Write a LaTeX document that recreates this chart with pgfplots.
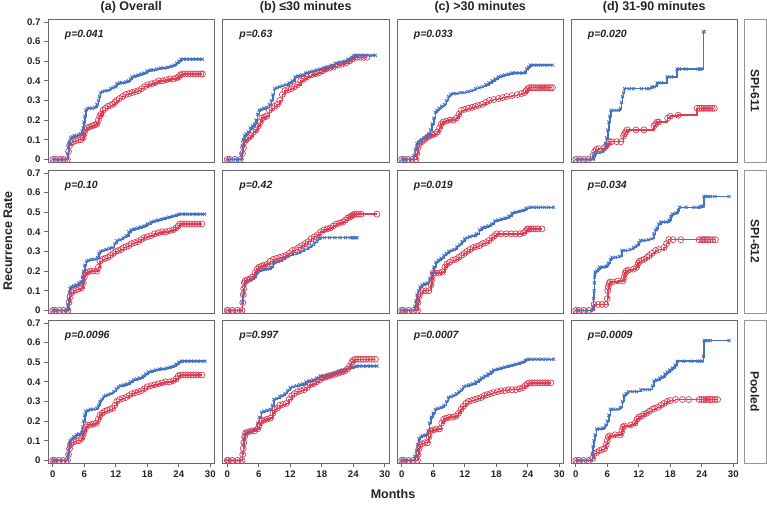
\documentclass[border=0pt]{standalone}
\usepackage{pgfplots}
\pgfplotsset{compat=1.18}
\usepackage{fontspec}
\setmainfont{Liberation Sans}
\definecolor{cb}{RGB}{68,114,196}
\definecolor{cr}{RGB}{220,62,84}
\definecolor{axg}{RGB}{105,105,105}
\definecolor{stg}{RGB}{150,150,150}
\definecolor{txt}{RGB}{35,35,35}
\pgfplotsset{
  panel/.style={scale only axis, width=166.5pt, height=143.3pt,
    xmin=-0.9, xmax=30.8, ymin=-0.015, ymax=0.715,
    axis line style={draw=axg, line width=0.9pt},
    tick align=outside, tick pos=left, major tick length=4pt,
    tick style={draw=axg, line width=0.8pt},
    xtick=\empty, ytick=\empty, clip=false,
    ticklabel style={font=\fontsize{9.6}{11}\selectfont\bfseries, text=txt},
    /pgf/number format/assume math mode=true,
    yticklabel style={/pgf/number format/fixed, /pgf/number format/precision=1},
    anchor=north west},
  leftcol/.style={ytick={0,0.1,0.2,0.3,0.4,0.5,0.6,0.7}},
  botrow/.style={xtick={0,6,12,18,24,30}},
  bl/.style={const plot, color=cb, line width=1.5pt, mark=x, mark size=2.2pt, mark options={line width=0.8pt}},
  rd/.style={const plot, color=cr, line width=1.5pt, mark=o, mark size=3pt, mark options={line width=0.7pt}},
}
\tikzset{
  pv/.style={anchor=west, font=\fontsize{10.5}{12}\selectfont\bfseries\itshape, text=txt},
  ttl/.style={anchor=base, font=\fontsize{12.5}{14}\selectfont\bfseries, text=txt},
  strip/.style={draw=stg, line width=0.8pt, fill=white},
  striptxt/.style={rotate=-90, font=\fontsize{12}{14}\selectfont\bfseries, text=txt},
}
\begin{document}
\begin{tikzpicture}
\useasboundingbox (0pt,0pt) rectangle (767pt,-505pt);
% ---------------- Row 1: SPI-611
\begin{axis}[panel, leftcol, at={(48pt,-19pt)}, name=A1]
\addplot[rd] coordinates {(0,0)(0.6,0)(1.4,0)(2.0,0)(2.8,0)(3.0,0.04)(3.2,0.07)(3.5,0.085)(3.9,0.09)(4.4,0.095)(4.9,0.10)(5.4,0.10)(5.8,0.11)(6.0,0.13)(6.2,0.15)(6.5,0.16)(7.0,0.165)(7.5,0.17)(8.0,0.175)(8.4,0.18)(8.7,0.20)(8.95,0.22)(9.2,0.23)(9.6,0.25)(10.0,0.26)(10.5,0.27)(11.0,0.275)(11.4,0.28)(11.8,0.29)(12.2,0.30)(12.7,0.31)(13.3,0.32)(13.9,0.33)(14.5,0.335)(15.1,0.34)(15.7,0.345)(16.3,0.35)(16.9,0.36)(17.5,0.37)(18.1,0.38)(18.8,0.385)(19.5,0.39)(20.2,0.40)(20.9,0.40)(21.6,0.405)(22.3,0.41)(23.0,0.41)(23.6,0.415)(24.0,0.42)(24.3,0.43)(24.7,0.435)(25.2,0.435)(25.7,0.435)(26.2,0.435)(26.7,0.435)(27.2,0.435)(27.7,0.435)(28.2,0.435)(28.5,0.435)};
\addplot[bl] coordinates {(0,0)(0.4,0)(1,0)(1.8,0)(2.6,0)(2.9,0.03)(3.0,0.06)(3.1,0.08)(3.2,0.09)(3.4,0.11)(3.7,0.115)(4.1,0.12)(4.5,0.12)(4.9,0.125)(5.3,0.13)(5.6,0.14)(5.8,0.16)(5.95,0.19)(6.1,0.22)(6.3,0.25)(6.6,0.26)(7.0,0.26)(7.5,0.26)(8.0,0.265)(8.4,0.28)(8.7,0.30)(8.9,0.32)(9.1,0.34)(9.5,0.345)(10.0,0.35)(10.5,0.35)(11.0,0.36)(11.5,0.365)(11.9,0.37)(12.2,0.385)(12.7,0.39)(13.3,0.39)(13.9,0.395)(14.4,0.40)(14.8,0.41)(15.1,0.42)(15.7,0.425)(16.3,0.43)(16.9,0.435)(17.4,0.44)(18.0,0.45)(18.6,0.455)(19.2,0.455)(19.8,0.46)(20.5,0.465)(21.2,0.465)(21.9,0.47)(22.6,0.475)(23.2,0.48)(23.6,0.49)(24.0,0.50)(24.4,0.51)(24.9,0.51)(25.5,0.51)(26.1,0.51)(26.7,0.51)(27.3,0.51)(27.9,0.51)(28.5,0.51)};
\node[pv] at (rel axis cs:0.08,0.888) {p=0.041};
\end{axis}
\begin{axis}[panel, at={(222.5pt,-19pt)}, name=B1]
\addplot[rd] coordinates {(0,0)(0.5,0)(1.5,0)(2.5,0)(2.9,0.03)(3.1,0.06)(3.3,0.09)(3.6,0.10)(4.0,0.11)(4.5,0.12)(5.0,0.14)(5.5,0.15)(5.9,0.17)(6.3,0.19)(6.6,0.21)(7.0,0.215)(7.5,0.22)(8.0,0.25)(8.5,0.26)(9.0,0.27)(9.5,0.28)(10.0,0.30)(10.5,0.33)(11.0,0.35)(11.6,0.355)(12.2,0.36)(12.8,0.37)(13.4,0.38)(14.0,0.40)(14.6,0.41)(15.2,0.42)(16.0,0.43)(16.7,0.435)(17.4,0.44)(18.1,0.45)(18.8,0.46)(19.5,0.465)(20.2,0.47)(21.0,0.48)(21.8,0.485)(22.5,0.49)(23.2,0.50)(23.8,0.51)(24.3,0.52)(24.8,0.52)(25.4,0.52)(26.0,0.52)(26.6,0.52)};
\addplot[bl] coordinates {(0,0)(0.8,0)(1.6,0)(2.4,0)(2.7,0.03)(2.9,0.07)(3.1,0.10)(3.3,0.12)(3.6,0.13)(4.0,0.14)(4.4,0.16)(4.8,0.17)(5.2,0.18)(5.5,0.20)(5.8,0.23)(6.1,0.25)(6.5,0.255)(7.0,0.26)(7.5,0.265)(8.0,0.28)(8.4,0.30)(8.7,0.33)(9.0,0.36)(9.5,0.365)(10.0,0.37)(10.6,0.375)(11.2,0.38)(11.8,0.39)(12.4,0.40)(12.9,0.42)(13.5,0.425)(14.2,0.43)(14.9,0.44)(15.6,0.445)(16.3,0.45)(17.0,0.455)(17.7,0.46)(18.4,0.465)(19.0,0.47)(19.8,0.48)(20.6,0.49)(21.4,0.495)(22.2,0.50)(23.0,0.51)(23.7,0.52)(24.2,0.53)(24.8,0.53)(25.5,0.53)(26.2,0.53)(27.0,0.53)(27.7,0.53)(28.2,0.53)};
\node[pv] at (rel axis cs:0.08,0.888) {p=0.63};
\end{axis}
\begin{axis}[panel, at={(397pt,-19pt)}, name=C1]
\addplot[rd] coordinates {(0,0)(0.5,0)(1.2,0)(2.0,0)(2.7,0)(2.9,0.03)(3.1,0.06)(3.4,0.08)(3.8,0.09)(4.3,0.10)(4.8,0.11)(5.3,0.12)(5.8,0.125)(6.3,0.13)(6.8,0.14)(7.2,0.16)(7.5,0.18)(7.9,0.19)(8.5,0.195)(9.2,0.20)(9.8,0.20)(10.4,0.21)(10.9,0.23)(11.4,0.25)(12.0,0.255)(12.7,0.26)(13.4,0.265)(14.0,0.27)(14.6,0.275)(15.3,0.28)(16.0,0.29)(16.7,0.30)(17.5,0.305)(18.4,0.31)(19.2,0.315)(20.0,0.32)(21.0,0.325)(22.0,0.33)(22.8,0.335)(23.4,0.34)(23.7,0.35)(24.0,0.36)(24.3,0.365)(24.7,0.365)(25.1,0.365)(25.5,0.365)(25.9,0.365)(26.3,0.365)(26.7,0.365)(27.1,0.365)(27.5,0.365)(27.9,0.365)(28.3,0.365)(28.7,0.365)};
\addplot[bl] coordinates {(0,0)(0.6,0)(1.3,0)(2.0,0)(2.3,0.02)(2.6,0.05)(2.9,0.08)(3.3,0.09)(3.8,0.10)(4.3,0.11)(4.8,0.12)(5.2,0.13)(5.5,0.15)(5.8,0.18)(6.1,0.21)(6.4,0.24)(6.7,0.25)(7.1,0.26)(7.6,0.27)(8.1,0.28)(8.5,0.30)(8.9,0.32)(9.3,0.33)(9.8,0.335)(10.5,0.335)(11.2,0.34)(11.9,0.34)(12.6,0.345)(13.3,0.35)(14.0,0.36)(14.7,0.365)(15.4,0.37)(16.0,0.38)(16.6,0.39)(17.2,0.40)(17.8,0.41)(18.4,0.42)(19.0,0.425)(19.6,0.43)(20.3,0.435)(21.0,0.44)(21.7,0.44)(22.4,0.44)(23.1,0.44)(23.5,0.445)(23.8,0.46)(24.1,0.47)(24.5,0.48)(25.2,0.48)(26.0,0.48)(26.8,0.48)(27.7,0.48)(28.7,0.48)};
\node[pv] at (rel axis cs:0.08,0.888) {p=0.033};
\end{axis}
\begin{axis}[panel, at={(571pt,-19pt)}, name=D1]
\addplot[rd] coordinates {(0,0)(0.7,0)(1.5,0)(2.3,0)(3.3,0.02)(3.6,0.04)(3.9,0.05)(4.4,0.055)(5.5,0.06)(5.9,0.07)(6.1,0.08)(6.4,0.09)(6.8,0.09)(7.8,0.09)(8.6,0.09)(9.1,0.12)(9.3,0.13)(9.5,0.14)(9.8,0.15)(11.5,0.15)(13.0,0.15)(14.9,0.17)(15.2,0.18)(15.5,0.19)(15.8,0.19)(17.5,0.21)(18.0,0.22)(19.5,0.225)(23.1,0.26)(23.6,0.26)(24.0,0.26)(24.4,0.26)(24.8,0.26)(25.2,0.26)(25.6,0.26)(26.0,0.26)(26.4,0.26)};
\addplot[bl] coordinates {(0,0)(0.6,0)(1.3,0)(2.0,0)(2.7,0)(3.3,0)(3.5,0.02)(3.7,0.03)(4.5,0.035)(5.2,0.045)(5.5,0.05)(5.7,0.08)(5.9,0.11)(6.1,0.15)(6.3,0.19)(6.5,0.22)(6.7,0.25)(7.4,0.25)(8.1,0.25)(8.5,0.26)(8.7,0.29)(8.9,0.32)(9.1,0.34)(9.3,0.36)(10.2,0.36)(11.0,0.36)(12.5,0.36)(13.5,0.36)(14.0,0.36)(14.5,0.37)(15.0,0.37)(15.5,0.39)(16.3,0.39)(17.4,0.42)(18.2,0.42)(19.3,0.46)(19.7,0.46)(21.0,0.46)(23.3,0.46)(23.6,0.46)(23.8,0.46)(24.3,0.65)(24.45,0.65)};
\node[pv] at (rel axis cs:0.08,0.888) {p=0.020};
\end{axis}
% ---------------- Row 2: SPI-612
\begin{axis}[panel, leftcol, at={(48pt,-170pt)}, name=A2]
\addplot[rd] coordinates {(0,0)(0.5,0)(1.3,0)(2.1,0)(2.9,0)(3.1,0.04)(3.3,0.07)(3.6,0.09)(4.0,0.10)(4.5,0.105)(5.0,0.11)(5.5,0.115)(5.8,0.14)(6.0,0.17)(6.2,0.19)(6.6,0.195)(7.2,0.20)(7.8,0.20)(8.4,0.20)(8.7,0.22)(9.0,0.25)(9.5,0.26)(10.0,0.265)(10.5,0.27)(11.0,0.28)(11.5,0.29)(12.0,0.30)(12.5,0.305)(13.0,0.31)(13.5,0.32)(14.0,0.325)(14.5,0.33)(15.0,0.34)(15.6,0.345)(16.2,0.35)(16.8,0.36)(17.4,0.37)(18.0,0.375)(18.7,0.38)(19.4,0.39)(20.1,0.395)(20.8,0.40)(21.5,0.40)(22.2,0.405)(22.9,0.41)(23.5,0.42)(23.9,0.43)(24.2,0.44)(24.7,0.44)(25.3,0.44)(25.9,0.44)(26.5,0.44)(27.1,0.44)(27.7,0.44)(28.4,0.44)};
\addplot[bl] coordinates {(0,0)(0.5,0)(1.2,0)(2.0,0)(2.7,0)(2.9,0.03)(3.0,0.06)(3.15,0.09)(3.3,0.11)(3.5,0.12)(4.0,0.125)(4.5,0.13)(5.0,0.14)(5.4,0.145)(5.7,0.17)(5.9,0.20)(6.1,0.23)(6.4,0.25)(6.8,0.255)(7.4,0.26)(8.0,0.26)(8.5,0.27)(8.8,0.29)(9.1,0.30)(9.6,0.305)(10.2,0.31)(10.8,0.315)(11.3,0.32)(11.8,0.34)(12.2,0.355)(12.8,0.36)(13.4,0.37)(14.0,0.38)(14.5,0.40)(14.9,0.41)(15.5,0.415)(16.2,0.42)(16.8,0.425)(17.4,0.43)(18.0,0.44)(18.7,0.45)(19.4,0.455)(20.0,0.46)(20.7,0.465)(21.4,0.47)(22.1,0.475)(22.8,0.48)(23.5,0.485)(24.0,0.49)(24.6,0.49)(25.3,0.49)(26.0,0.49)(26.7,0.49)(27.4,0.49)(28.1,0.49)(28.9,0.49)};
\node[pv] at (rel axis cs:0.08,0.888) {p=0.10};
\end{axis}
\begin{axis}[panel, at={(222.5pt,-170pt)}, name=B2]
\addplot[bl] coordinates {(0,0)(0.5,0)(1.3,0)(2.2,0)(2.7,0)(2.9,0.04)(3.0,0.08)(3.15,0.11)(3.3,0.13)(3.5,0.15)(4.0,0.155)(4.6,0.16)(5.2,0.17)(5.6,0.19)(5.9,0.20)(6.4,0.205)(7.0,0.21)(7.7,0.21)(8.3,0.22)(8.8,0.24)(9.1,0.245)(9.7,0.25)(10.4,0.26)(11.0,0.27)(11.7,0.28)(12.4,0.285)(13.2,0.29)(13.9,0.30)(14.6,0.31)(15.4,0.32)(16.0,0.33)(16.6,0.345)(17.2,0.36)(17.7,0.37)(18.5,0.37)(19.5,0.37)(20.5,0.37)(21.5,0.37)(22.5,0.37)(23.4,0.37)(23.8,0.37)(24.1,0.37)(24.4,0.37)(24.7,0.37)};
\addplot[rd] coordinates {(0,0)(0.1,0)(1.0,0)(2.0,0)(2.8,0)(2.95,0.04)(3.05,0.08)(3.15,0.11)(3.25,0.14)(3.4,0.15)(3.8,0.155)(4.3,0.16)(4.8,0.17)(5.3,0.19)(5.7,0.21)(6.0,0.22)(6.5,0.225)(7.0,0.23)(7.6,0.235)(8.2,0.25)(8.8,0.26)(9.4,0.265)(10.0,0.27)(10.6,0.275)(11.2,0.28)(11.8,0.29)(12.4,0.305)(13.0,0.31)(13.6,0.32)(14.2,0.33)(14.8,0.34)(15.4,0.35)(16.0,0.365)(16.6,0.375)(17.2,0.385)(17.8,0.40)(18.4,0.41)(19.0,0.415)(19.6,0.42)(20.2,0.43)(20.8,0.44)(21.4,0.445)(22.0,0.45)(22.5,0.46)(22.9,0.47)(23.3,0.475)(23.6,0.48)(23.9,0.485)(24.2,0.49)(24.6,0.49)(25.0,0.49)(25.5,0.49)(28.5,0.49)};
\node[pv] at (rel axis cs:0.08,0.888) {p=0.42};
\end{axis}
\begin{axis}[panel, at={(397pt,-170pt)}, name=C2]
\addplot[rd] coordinates {(0,0)(0.3,0)(1.3,0)(2.3,0)(3.0,0)(3.1,0.04)(3.3,0.07)(3.6,0.09)(4.0,0.10)(4.6,0.10)(5.2,0.10)(5.6,0.13)(5.8,0.16)(6.0,0.19)(6.5,0.19)(7.1,0.19)(7.7,0.195)(8.2,0.22)(8.6,0.235)(9.1,0.245)(9.7,0.255)(10.3,0.26)(10.9,0.27)(11.4,0.28)(11.9,0.29)(12.4,0.30)(13.0,0.31)(13.6,0.32)(14.2,0.325)(14.8,0.33)(15.4,0.34)(16.0,0.345)(16.6,0.355)(17.2,0.37)(17.7,0.38)(18.1,0.39)(18.9,0.39)(19.9,0.39)(20.8,0.39)(21.7,0.39)(22.5,0.39)(23.2,0.395)(23.6,0.405)(23.9,0.415)(24.2,0.415)(24.6,0.415)(25.0,0.415)(25.5,0.415)(26.0,0.415)(26.7,0.415)};
\addplot[bl] coordinates {(0,0)(0.6,0)(1.3,0)(2.0,0)(2.5,0.02)(2.7,0.05)(2.9,0.08)(3.2,0.10)(3.5,0.12)(3.9,0.13)(4.4,0.135)(4.9,0.14)(5.3,0.16)(5.7,0.19)(6.1,0.22)(6.5,0.245)(7.0,0.255)(7.5,0.265)(8.0,0.28)(8.5,0.29)(9.0,0.30)(9.5,0.305)(10.0,0.31)(10.5,0.325)(11.0,0.335)(11.5,0.35)(12.0,0.365)(12.5,0.37)(13.0,0.375)(13.6,0.38)(14.2,0.39)(14.8,0.41)(15.3,0.42)(15.9,0.425)(16.5,0.43)(17.1,0.44)(17.7,0.455)(18.3,0.46)(19.0,0.465)(19.7,0.47)(20.4,0.48)(21.0,0.495)(21.7,0.50)(22.4,0.505)(23.1,0.51)(23.7,0.52)(24.3,0.525)(25.0,0.525)(25.7,0.525)(26.4,0.525)(27.2,0.525)(28.0,0.525)(28.9,0.525)};
\node[pv] at (rel axis cs:0.08,0.888) {p=0.019};
\end{axis}
\begin{axis}[panel, at={(571pt,-170pt)}, name=D2]
\addplot[rd] coordinates {(0,0)(0.6,0)(1.5,0)(2.5,0)(3.5,0.03)(4.3,0.03)(5.0,0.03)(5.7,0.03)(6.0,0.06)(6.1,0.10)(6.2,0.12)(6.3,0.135)(6.5,0.144)(7.0,0.145)(8.0,0.15)(9.0,0.15)(9.2,0.17)(9.4,0.19)(9.6,0.20)(10.0,0.205)(11.0,0.21)(11.6,0.22)(11.9,0.24)(12.1,0.25)(12.6,0.255)(13.0,0.26)(13.6,0.27)(14.0,0.28)(14.5,0.29)(15.2,0.305)(15.8,0.31)(16.8,0.32)(17.3,0.34)(17.7,0.36)(18.5,0.36)(20.0,0.36)(23.5,0.36)(24.0,0.36)(24.3,0.36)(24.6,0.36)(24.9,0.36)(25.2,0.36)(25.6,0.36)(26.1,0.36)(26.6,0.36)};
\addplot[bl] coordinates {(0,0)(0.5,0)(1.3,0)(2.1,0)(3.0,0)(3.3,0.02)(3.4,0.06)(3.5,0.10)(3.55,0.14)(3.6,0.17)(3.7,0.195)(4.0,0.20)(4.3,0.21)(4.6,0.22)(5.2,0.22)(5.8,0.225)(6.2,0.24)(6.6,0.26)(6.9,0.27)(7.6,0.27)(8.3,0.275)(8.8,0.305)(9.5,0.305)(10.3,0.31)(11.0,0.32)(11.6,0.33)(12.0,0.345)(12.3,0.356)(13.0,0.356)(13.8,0.36)(14.5,0.365)(14.9,0.39)(15.2,0.41)(15.5,0.42)(15.8,0.44)(16.2,0.45)(17.2,0.45)(17.8,0.46)(18.1,0.48)(18.4,0.49)(19.0,0.495)(19.5,0.51)(19.8,0.525)(21.0,0.525)(22.5,0.525)(23.3,0.525)(23.6,0.525)(23.9,0.53)(24.2,0.53)(24.4,0.58)(24.8,0.58)(25.2,0.58)(25.6,0.58)(26.5,0.58)(29.2,0.58)};
\node[pv] at (rel axis cs:0.08,0.888) {p=0.034};
\end{axis}
% ---------------- Row 3: Pooled
\begin{axis}[panel, leftcol, botrow, at={(48pt,-320pt)}, name=A3]
\addplot[rd] coordinates {(0,0)(0.4,0)(1.2,0)(2.0,0)(2.8,0)(3.0,0.03)(3.2,0.06)(3.4,0.08)(3.6,0.09)(4.0,0.095)(4.5,0.10)(5.0,0.10)(5.5,0.11)(5.8,0.13)(6.0,0.15)(6.3,0.17)(6.6,0.18)(7.1,0.18)(7.7,0.185)(8.3,0.19)(8.7,0.21)(9.0,0.23)(9.4,0.24)(9.9,0.25)(10.4,0.255)(10.9,0.26)(11.4,0.265)(11.8,0.28)(12.2,0.30)(12.7,0.31)(13.3,0.315)(13.9,0.32)(14.5,0.33)(15.1,0.34)(15.7,0.345)(16.3,0.35)(16.9,0.355)(17.5,0.365)(18.0,0.375)(18.7,0.38)(19.4,0.385)(20.1,0.39)(20.8,0.395)(21.5,0.40)(22.2,0.40)(22.9,0.405)(23.5,0.415)(23.9,0.43)(24.3,0.435)(24.8,0.435)(25.3,0.435)(25.8,0.435)(26.3,0.435)(26.8,0.435)(27.3,0.435)(27.8,0.435)(28.4,0.435)};
\addplot[bl] coordinates {(0,0)(0.5,0)(1.2,0)(2.0,0)(2.8,0)(2.95,0.03)(3.05,0.06)(3.15,0.08)(3.3,0.10)(3.6,0.11)(4.0,0.12)(4.5,0.13)(5.0,0.135)(5.5,0.14)(5.7,0.17)(5.9,0.20)(6.1,0.23)(6.3,0.25)(6.7,0.255)(7.2,0.26)(7.8,0.26)(8.4,0.265)(8.7,0.28)(9.0,0.30)(9.3,0.31)(9.7,0.325)(10.1,0.33)(10.6,0.335)(11.1,0.34)(11.6,0.35)(12.1,0.365)(12.5,0.375)(13.0,0.38)(13.6,0.385)(14.2,0.39)(14.8,0.40)(15.4,0.41)(16.0,0.415)(16.6,0.42)(17.2,0.43)(17.7,0.44)(18.2,0.45)(18.9,0.455)(19.6,0.46)(20.3,0.465)(21.0,0.465)(21.7,0.47)(22.4,0.475)(23.0,0.48)(23.5,0.49)(24.0,0.50)(24.5,0.505)(25.1,0.505)(25.7,0.505)(26.3,0.505)(26.9,0.505)(27.5,0.505)(28.2,0.505)(29.0,0.505)};
\node[pv] at (rel axis cs:0.08,0.888) {p=0.0096};
\end{axis}
\begin{axis}[panel, botrow, at={(222.5pt,-320pt)}, name=B3]
\addplot[bl] coordinates {(0,0)(0.5,0)(1.3,0)(2.1,0)(2.8,0)(2.95,0.04)(3.05,0.08)(3.2,0.11)(3.35,0.13)(3.5,0.14)(4.0,0.145)(4.5,0.15)(5.0,0.155)(5.5,0.16)(5.8,0.19)(6.1,0.22)(6.5,0.245)(7.0,0.25)(7.6,0.255)(8.2,0.26)(8.6,0.28)(8.9,0.31)(9.4,0.315)(10.0,0.325)(10.5,0.33)(11.0,0.34)(11.5,0.355)(12.0,0.37)(12.6,0.375)(13.2,0.38)(13.8,0.385)(14.4,0.39)(15.0,0.40)(15.6,0.405)(16.3,0.41)(17.0,0.42)(17.7,0.43)(18.4,0.43)(19.1,0.435)(19.8,0.44)(20.5,0.445)(21.2,0.455)(21.9,0.46)(22.6,0.465)(23.3,0.47)(24.0,0.475)(24.5,0.48)(25.2,0.48)(25.9,0.48)(26.6,0.48)(27.3,0.48)(28.0,0.48)(28.5,0.48)};
\addplot[rd] coordinates {(0,0)(0.2,0)(1.0,0)(2.0,0)(2.8,0)(2.95,0.03)(3.05,0.06)(3.15,0.09)(3.3,0.12)(3.5,0.14)(4.0,0.145)(4.6,0.15)(5.2,0.15)(5.8,0.16)(6.1,0.18)(6.5,0.20)(7.0,0.205)(7.6,0.21)(8.2,0.215)(8.7,0.24)(9.0,0.26)(9.5,0.265)(10.0,0.28)(10.6,0.285)(11.2,0.29)(11.8,0.31)(12.3,0.33)(12.8,0.34)(13.4,0.35)(14.0,0.355)(14.6,0.36)(15.2,0.37)(15.8,0.385)(16.4,0.39)(17.0,0.40)(17.6,0.41)(18.2,0.42)(18.8,0.425)(19.4,0.43)(20.0,0.435)(20.6,0.44)(21.2,0.445)(21.8,0.45)(22.4,0.455)(22.9,0.465)(23.3,0.48)(23.7,0.50)(24.0,0.51)(24.4,0.515)(24.9,0.515)(25.4,0.515)(25.9,0.515)(26.4,0.515)(27.0,0.515)(27.6,0.515)(28.2,0.515)};
\node[pv] at (rel axis cs:0.08,0.888) {p=0.997};
\end{axis}
\begin{axis}[panel, botrow, at={(397pt,-320pt)}, name=C3]
\addplot[rd] coordinates {(0,0)(0.4,0)(1.3,0)(2.2,0)(3.0,0)(3.1,0.03)(3.3,0.06)(3.5,0.08)(3.9,0.085)(4.4,0.09)(4.9,0.09)(5.2,0.12)(5.5,0.15)(6.0,0.155)(6.6,0.16)(7.2,0.16)(7.6,0.19)(8.0,0.21)(8.5,0.215)(9.1,0.22)(9.7,0.22)(10.3,0.225)(10.8,0.24)(11.3,0.26)(11.7,0.275)(12.2,0.29)(12.7,0.30)(13.3,0.305)(13.9,0.31)(14.5,0.315)(15.1,0.32)(15.7,0.33)(16.3,0.335)(16.9,0.34)(17.5,0.345)(18.2,0.35)(18.9,0.355)(19.6,0.355)(20.3,0.36)(21.0,0.36)(21.7,0.36)(22.4,0.365)(23.0,0.37)(23.5,0.38)(23.9,0.39)(24.3,0.395)(24.8,0.395)(25.3,0.395)(25.8,0.395)(26.3,0.395)(26.8,0.395)(27.3,0.395)(27.8,0.395)(28.4,0.395)};
\addplot[bl] coordinates {(0,0)(0.6,0)(1.3,0)(2.0,0)(2.5,0.02)(2.8,0.05)(3.0,0.08)(3.3,0.11)(3.6,0.12)(4.0,0.125)(4.5,0.13)(5.0,0.15)(5.3,0.19)(5.6,0.22)(6.0,0.24)(6.4,0.26)(6.9,0.265)(7.5,0.27)(8.0,0.28)(8.5,0.30)(8.9,0.32)(9.4,0.325)(9.9,0.33)(10.4,0.34)(10.9,0.35)(11.4,0.36)(11.8,0.375)(12.3,0.38)(12.9,0.385)(13.5,0.39)(14.1,0.40)(14.7,0.41)(15.2,0.42)(15.8,0.43)(16.4,0.44)(17.0,0.45)(17.5,0.46)(18.2,0.465)(18.9,0.47)(19.6,0.475)(20.3,0.48)(21.0,0.485)(21.7,0.49)(22.4,0.495)(23.0,0.50)(23.5,0.51)(24.0,0.515)(24.6,0.515)(25.3,0.515)(26.0,0.515)(26.7,0.515)(27.4,0.515)(28.1,0.515)(28.9,0.515)};
\node[pv] at (rel axis cs:0.08,0.888) {p=0.0007};
\end{axis}
\begin{axis}[panel, botrow, at={(571pt,-320pt)}, name=D3]
\addplot[rd] coordinates {(0,0)(0.6,0)(1.5,0)(2.5,0)(3.2,0.01)(3.5,0.034)(4.0,0.04)(4.5,0.05)(5.0,0.055)(5.5,0.06)(5.8,0.08)(6.0,0.10)(6.2,0.12)(6.5,0.125)(7.5,0.13)(8.5,0.13)(8.8,0.15)(9.0,0.17)(9.3,0.175)(10.5,0.18)(11.3,0.19)(11.7,0.21)(12.0,0.22)(12.5,0.225)(13.0,0.235)(13.5,0.24)(14.0,0.25)(14.6,0.26)(15.0,0.265)(15.6,0.27)(16.2,0.28)(16.8,0.29)(17.4,0.30)(18.0,0.305)(19.0,0.31)(20.3,0.31)(21.5,0.31)(23.5,0.31)(24.0,0.31)(24.4,0.31)(24.8,0.31)(25.2,0.31)(25.6,0.31)(26.0,0.31)(26.5,0.31)(27.0,0.31)};
\addplot[bl] coordinates {(0,0)(0.6,0)(1.4,0)(2.2,0)(3.0,0)(3.15,0.03)(3.3,0.07)(3.45,0.10)(3.7,0.13)(4.0,0.16)(4.6,0.16)(5.2,0.165)(5.7,0.18)(6.0,0.20)(6.3,0.23)(6.6,0.26)(7.2,0.26)(7.9,0.26)(8.5,0.27)(8.9,0.30)(9.2,0.33)(9.6,0.34)(10.0,0.35)(10.8,0.35)(11.6,0.35)(12.4,0.36)(13.2,0.36)(14.0,0.36)(14.6,0.38)(14.9,0.405)(15.4,0.41)(16.0,0.42)(16.5,0.425)(17.0,0.44)(17.4,0.45)(17.9,0.46)(18.4,0.47)(18.9,0.485)(19.3,0.505)(20.5,0.505)(22.0,0.505)(23.2,0.505)(23.6,0.505)(24.0,0.505)(24.3,0.53)(24.45,0.61)(24.8,0.61)(25.2,0.61)(25.6,0.61)(29.2,0.61)};
\node[pv] at (rel axis cs:0.08,0.888) {p=0.0009};
\end{axis}
% ---------------- titles, strips, labels
\node[ttl] at ([yshift=8pt]A1.north) {(a) Overall};
\node[ttl] at ([yshift=8pt]B1.north) {(b) ≤30 minutes};
\node[ttl] at ([yshift=8pt]C1.north) {(c) >30 minutes};
\node[ttl] at ([yshift=8pt]D1.north) {(d) 31-90 minutes};
\draw[strip] ([xshift=6.5pt]D1.north east) rectangle ([xshift=28.5pt]D1.south east);
\draw[strip] ([xshift=6.5pt]D2.north east) rectangle ([xshift=28.5pt]D2.south east);
\draw[strip] ([xshift=6.5pt]D3.north east) rectangle ([xshift=28.5pt]D3.south east);
\node[striptxt] at ([xshift=17.5pt]D1.east) {SPI-611};
\node[striptxt] at ([xshift=17.5pt]D2.east) {SPI-612};
\node[striptxt] at ([xshift=17.5pt]D3.east) {Pooled};
\node[rotate=90, font=\fontsize{12.5}{14}\selectfont\bfseries, text=txt] at (8pt,-241pt) {Recurrence Rate};
\node[font=\fontsize{12.5}{14}\selectfont\bfseries, text=txt] at (393pt,-494pt) {Months};
\end{tikzpicture}
\end{document}
